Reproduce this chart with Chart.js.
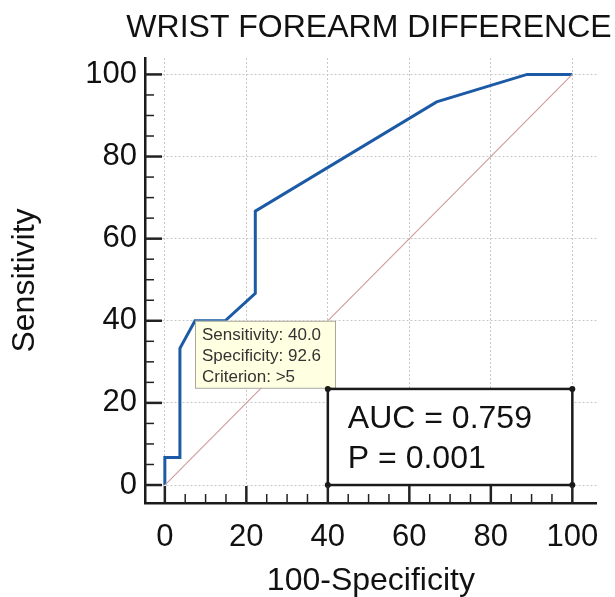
<!DOCTYPE html>
<html><head><meta charset="utf-8">
<script src="https://cdn.jsdelivr.net/npm/chart.js@4"></script>
<style>html,body{margin:0;padding:0;background:#fff;}canvas{display:block;}</style>
</head><body>
<canvas id="c" width="615" height="597"></canvas>
<script>
const titleText = 'WRIST FOREARM DIFFERENCE';
const xTitle = '100-Specificity';
const yTitle = 'Sensitivity';
// ROC curve: 100-Specificity (x) vs Sensitivity (y)
const rocX = [0, 0, 3.7, 3.7, 7.4, 14.8, 22.2, 22.2, 66.7, 88.9, 100];
const rocY = [0, 6.7, 6.7, 33.3, 40.0, 40.0, 46.7, 66.7, 93.3, 100, 100];
// reference diagonal
const refX = [0, 100];
const refY = [0, 100];
const majorTicks = [0, 20, 40, 60, 80, 100];
const minorTicks = [5, 10, 15, 25, 30, 35, 45, 50, 55, 65, 70, 75, 85, 90, 95];
const aucLines = ['AUC = 0.759', 'P = 0.001'];
const aucBoxX = [40, 100];
const aucBoxY = [0, 23.4];
const tipLines = ['Sensitivity: 40.0', 'Specificity: 92.6', 'Criterion: >5'];
const tipPoint = [7.4, 40.0];

const FAM = "'Liberation Sans', Arial, Helvetica, sans-serif";
Chart.defaults.font.family = FAM;

const overlay = {
  id: 'overlay',
  afterDatasetsDraw(chart) {
    const {ctx, scales: {x, y}} = chart;
    ctx.save();
    // tooltip-like annotation box
    const tx = x.getPixelForValue(tipPoint[0]);
    const ty = y.getPixelForValue(tipPoint[1]);
    ctx.fillStyle = '#ffffe1';
    ctx.fillRect(tx, ty, 140, 67);
    ctx.strokeStyle = '#a8a8a0';
    ctx.lineWidth = 1;
    ctx.strokeRect(tx + 0.5, ty + 0.5, 140, 67);
    ctx.fillStyle = '#333';
    ctx.font = '17px ' + FAM;
    ctx.textBaseline = 'alphabetic';
    ctx.textAlign = 'left';
    tipLines.forEach((t, i) => ctx.fillText(t, tx + 7, ty + 19 + i * 21));

    // AUC box
    const l = x.getPixelForValue(aucBoxX[0]), r = x.getPixelForValue(aucBoxX[1]);
    const b = y.getPixelForValue(aucBoxY[0]), t = y.getPixelForValue(aucBoxY[1]);
    ctx.fillStyle = '#fff';
    ctx.fillRect(l, t, r - l, b - t);
    ctx.strokeStyle = '#1a1a1a';
    ctx.lineWidth = 2.5;
    ctx.strokeRect(l, t, r - l, b - t);
    ctx.fillStyle = '#1a1a1a';
    [[l, t], [r, t], [l, b], [r, b]].forEach(([px, py]) => {
      ctx.beginPath(); ctx.arc(px, py, 3, 0, Math.PI * 2); ctx.fill();
    });
    ctx.fillStyle = '#111';
    ctx.font = '32px ' + FAM;
    ctx.fillText(aucLines[0], l + 20, t + 39);
    ctx.fillText(aucLines[1], l + 20, t + 79);
    ctx.restore();
  },
  afterDraw(chart) {
    const {ctx, scales: {x, y}, chartArea: ca} = chart;
    ctx.save();
    // chart title, centred over the plot area
    ctx.fillStyle = '#111';
    ctx.font = '32px ' + FAM;
    ctx.textAlign = 'center';
    ctx.textBaseline = 'alphabetic';
    ctx.fillText(titleText, 369, 37);
    // inside tick marks
    ctx.strokeStyle = '#222';
    const tick = (vals, len, w) => {
      ctx.lineWidth = w;
      vals.forEach(v => {
        const px = x.getPixelForValue(v);
        ctx.beginPath(); ctx.moveTo(px, ca.bottom); ctx.lineTo(px, ca.bottom - len); ctx.stroke();
        const py = y.getPixelForValue(v);
        ctx.beginPath(); ctx.moveTo(ca.left, py); ctx.lineTo(ca.left + len, py); ctx.stroke();
      });
    };
    tick(majorTicks, 17, 2.5);
    tick(minorTicks, 9, 1.5);
    ctx.restore();
  }
};

const pts = (xs, ys) => xs.map((v, i) => ({x: v, y: ys[i]}));

new Chart(document.getElementById('c'), {
  type: 'scatter',
  data: {
    datasets: [
      {data: pts(refX, refY), showLine: true, borderColor: '#cf9a9a', borderWidth: 1.1, pointRadius: 0},
      {data: pts(rocX, rocY), showLine: true, borderColor: '#1c5aa5', borderWidth: 3, pointRadius: 0}
    ]
  },
  options: {
    responsive: false, animation: false, devicePixelRatio: 1,
    layout: {padding: {left: 0, right: 15, top: 58, bottom: 0}},
    plugins: {
      legend: {display: false},
      tooltip: {enabled: false},
      title: {display: false, text: titleText}
    },
    scales: {
      x: {
        type: 'linear', min: -4.87, max: 106,
        afterBuildTicks: s => { s.ticks = majorTicks.map(v => ({value: v})); },
        afterFit: s => { s.height = 94; },
        ticks: {font: {size: 31}, color: '#111', padding: 16, maxRotation: 0, autoSkip: false},
        grid: {color: '#c8c8c8', lineWidth: 1, drawTicks: false},
        border: {display: true, color: '#1a1a1a', width: 2.5, dash: [2, 2]},
        title: {display: true, text: xTitle, color: '#111', font: {size: 32, lineHeight: 1}, padding: {top: 0, bottom: 0}}
      },
      y: {
        type: 'linear', min: -4.38, max: 104,
        afterBuildTicks: s => { s.ticks = majorTicks.map(v => ({value: v})); },
        afterFit: s => { s.width = 145; },
        ticks: {font: {size: 31}, color: '#111', padding: 8, autoSkip: false},
        grid: {color: '#c8c8c8', lineWidth: 1, drawTicks: false},
        border: {display: true, color: '#1a1a1a', width: 2.5, dash: [2, 2]},
        title: {display: true, text: yTitle, color: '#111', font: {size: 32, lineHeight: 1}, padding: {top: 9, bottom: 0}}
      }
    }
  },
  plugins: [overlay]
});
</script>
</body></html>
